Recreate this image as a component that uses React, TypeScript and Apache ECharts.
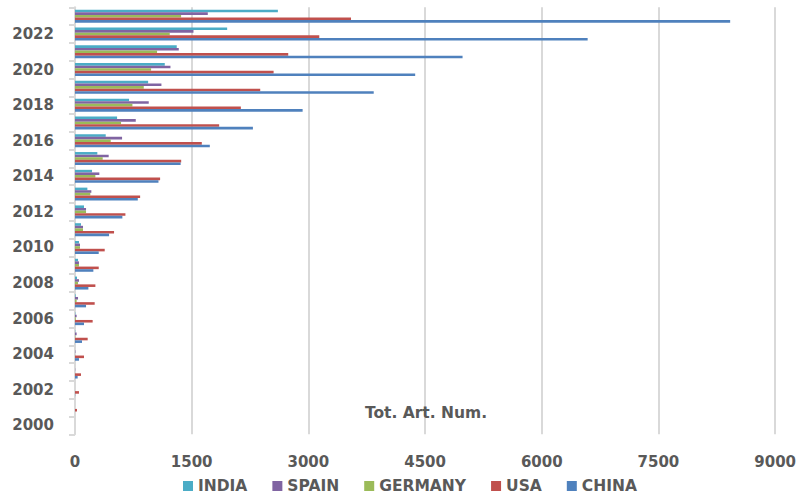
import React, { useEffect, useRef } from "react";
import * as echarts from "echarts";

// Publication years, oldest at the bottom of the axis
const years: string[] = [
  "2000", "2001", "2002", "2003", "2004", "2005", "2006", "2007",
  "2008", "2009", "2010", "2011", "2012", "2013", "2014", "2015",
  "2016", "2017", "2018", "2019", "2020", "2021", "2022", "2023",
];

// Total number of articles per year and country
const india: number[] = [
  0, 0, 0, 0, 0, 3, 5, 8, 26, 39, 51, 77, 116, 159, 219, 287, 395, 541, 695, 940, 1154, 1308, 1956, 2608,
];
const spain: number[] = [
  0, 0, 0, 3, 5, 21, 21, 39, 51, 51, 64, 103, 142, 210, 313, 433, 605, 781, 948, 1111, 1227, 1334, 1523, 1707,
];
const germany: number[] = [
  0, 0, 0, 0, 0, 5, 10, 21, 39, 51, 64, 103, 142, 197, 262, 356, 459, 592, 738, 884, 978, 1055, 1218, 1364,
];
const usa: number[] = [
  0, 26, 51, 77, 116, 163, 227, 253, 262, 305, 382, 502, 648, 837, 1094, 1365, 1630, 1853, 2132, 2381, 2553, 2741, 3140, 3548,
];
const china: number[] = [
  0, 0, 3, 34, 51, 90, 116, 142, 172, 236, 305, 438, 609, 807, 1073, 1358, 1733, 2287, 2926, 3840, 4373, 4982, 6590, 8422,
];

const seriesNames: string[] = ["INDIA", "SPAIN", "GERMANY", "USA", "CHINA"];
const seriesColors: string[] = ["#4BACC6", "#8064A2", "#9BBB59", "#C0504D", "#4F81BD"];

const FONT = "DejaVu Sans";
const TEXT_COLOR = "#595959";
const GRID_COLOR = "#D9D9D9";

export default function App() {
  const ref = useRef<HTMLDivElement>(null);

  useEffect(() => {
    if (!ref.current) return;
    const chart = echarts.init(ref.current, null, { renderer: "svg" });
    const values = [india, spain, germany, usa, china];

    chart.setOption({
      animation: false,
      backgroundColor: "#ffffff",
      color: seriesColors,
      grid: { left: 75, right: 23, top: 7.3, bottom: 65.7, containLabel: false },
      legend: {
        data: seriesNames,
        left: 183,
        top: 478,
        padding: 0,
        icon: "rect",
        itemWidth: 10,
        itemHeight: 10,
        itemGap: 25,
        textStyle: {
          fontFamily: FONT,
          fontSize: 15.5,
          fontWeight: "bold",
          color: TEXT_COLOR,
        },
      },
      xAxis: {
        type: "value",
        min: 0,
        max: 9000,
        interval: 1500,
        axisLine: { show: false },
        axisTick: { show: false },
        splitLine: { show: true, lineStyle: { color: GRID_COLOR, width: 2 } },
        axisLabel: {
          margin: 20,
          fontFamily: FONT,
          fontSize: 15,
          fontWeight: "bold",
          color: TEXT_COLOR,
          formatter: (v: number) => String(v),
        },
      },
      yAxis: {
        type: "category",
        data: years,
        axisLine: { show: true, lineStyle: { color: GRID_COLOR, width: 2 } },
        axisTick: {
          show: true,
          interval: 0,
          length: 6,
          lineStyle: { color: GRID_COLOR, width: 2 },
        },
        axisLabel: {
          interval: 1,
          margin: 21,
          fontFamily: FONT,
          fontSize: 15,
          fontWeight: "bold",
          color: TEXT_COLOR,
        },
        splitLine: { show: false },
      },
      graphic: [
        {
          type: "text",
          x: 426,
          y: 413,
          z: 100,
          style: {
            text: "Tot. Art. Num.",
            fontFamily: FONT,
            fontSize: 15.5,
            fontWeight: "bold",
            fill: TEXT_COLOR,
            align: "center",
            verticalAlign: "middle",
          },
        },
      ],
      series: seriesNames.map((name, i) => ({
        name,
        type: "bar",
        data: values[i],
        barGap: "0%",
        barCategoryGap: "27%",
        itemStyle: { color: seriesColors[i] },
      })),
    });

    return () => chart.dispose();
  }, []);

  return (
    <div
      ref={ref}
      style={{ position: "absolute", left: 0, top: 0, width: 799, height: 500, background: "#fff" }}
    />
  );
}
